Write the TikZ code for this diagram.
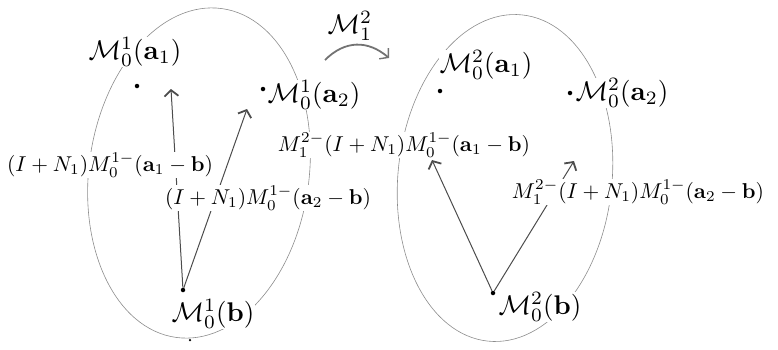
\documentclass[tikz,border=0pt]{standalone}
\usepackage{graphicx}
\usetikzlibrary{arrows.meta}
\tikzset{
  oval/.style={draw=black!45, line width=0.6pt},
  dot/.style={circle, fill=black, inner sep=0pt, minimum size=4.5pt},
  arr/.style={draw=black!70, line width=1pt, -{Straight Barb[length=6pt,width=14pt,line width=1.8pt]}},
  bigarr/.style={draw=black!55, line width=1.8pt, -{Straight Barb[length=6pt,width=14pt,line width=1.4pt]}},
  lab/.style={fill=white, inner sep=1pt},
}
\newcommand{\smalltxt}[1]{\scalebox{2.15}{$#1$}}
\newcommand{\bigtxt}[1]{\scalebox{2.7}{$#1$}}
\begin{document}
\begin{tikzpicture}[x=1pt,y=-1pt]
\useasboundingbox (0,0) rectangle (778,349);
% ovals
\draw[oval, rotate around={-8:(199,173)}] (199,173) ellipse [x radius=110, y radius=166];
\draw[oval, rotate around={-6:(505,178)}] (505,178) ellipse [x radius=107, y radius=164];
% dots
\node[dot] (a1) at (137,86) {};
\node[dot] (a2) at (263,89) {};
\node[dot] (b) at (183,290) {};
\node[dot, minimum size=2.5pt] (s) at (190,340) {};
\node[dot] (c1) at (440,91) {};
\node[dot] (c2) at (570,93) {};
\node[dot] (d) at (493,293) {};
% arrow tips
\coordinate (t1) at (171,89);
\coordinate (t2) at (247,109);
\coordinate (t3) at (432,160);
\coordinate (t4) at (574,161);
\coordinate (m1) at (325,60);
\coordinate (m2) at (389,58);
% arrows
\draw[arr] (b) -- (t1);
\draw[arr] (b) -- (t2);
\draw[arr] (d) -- (t3);
\draw[arr] (d) -- (t4);
\draw[bigarr] (m1) .. controls (345,40) and (368,40) .. (m2);
% labels
\node[lab] (la1) at (135,52) {\bigtxt{\mathcal{M}_0^1(\mathbf{a}_1)}};
\node[lab] (la2) at (314,95) {\bigtxt{\mathcal{M}_0^1(\mathbf{a}_2)}};
\node[lab] (lb) at (213,314) {\bigtxt{\mathcal{M}_0^1(\mathbf{b})}};
\node[lab] (lm) at (350,26) {\bigtxt{\mathcal{M}_1^2}};
\node[lab] (lc1) at (486,65) {\bigtxt{\mathcal{M}_0^2(\mathbf{a}_1)}};
\node[lab] (lc2) at (622,93) {\bigtxt{\mathcal{M}_0^2(\mathbf{a}_2)}};
\node[lab] (ld) at (540,307) {\bigtxt{\mathcal{M}_0^2(\mathbf{b})}};
\node[lab] (e1) at (110,165) {\smalltxt{(I+N_1)M_0^{1-}(\mathbf{a}_1-\mathbf{b})}};
\node[lab] (e2) at (268,198) {\smalltxt{(I+N_1)M_0^{1-}(\mathbf{a}_2-\mathbf{b})}};
\node[lab] (f1) at (404,145) {\smalltxt{M_1^{2-}(I+N_1)M_0^{1-}(\mathbf{a}_1-\mathbf{b})}};
\node[lab] (f2) at (638,192) {\smalltxt{M_1^{2-}(I+N_1)M_0^{1-}(\mathbf{a}_2-\mathbf{b})}};
\end{tikzpicture}
\end{document}
